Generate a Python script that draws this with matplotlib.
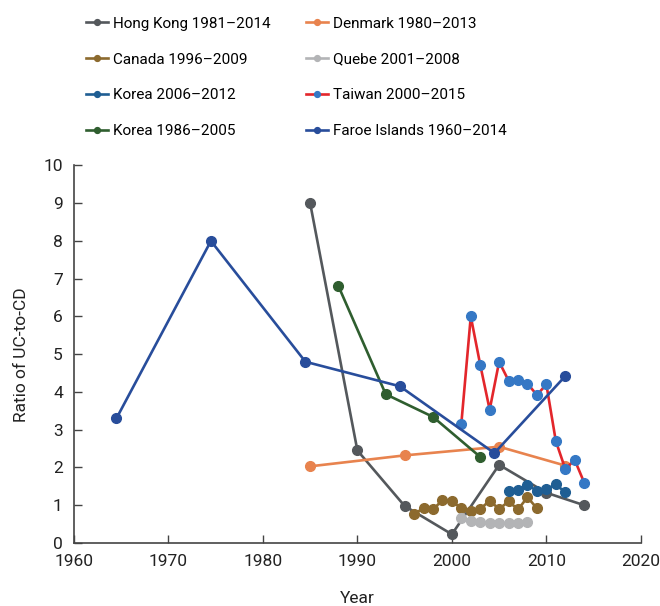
import numpy as np
import matplotlib
matplotlib.use('Agg')
import matplotlib.pyplot as plt

plt.rcParams['font.family'] = ['Roboto', 'DejaVu Sans']

# ratio of UC-to-CD by country / period
hk_years = [1985, 1990, 1995, 2000, 2005, 2010, 2014]
hk_vals = [9.0, 2.45, 0.98, 0.23, 2.07, 1.33, 1.0]

dk_years = [1985, 1995, 2005, 2012]
dk_vals = [2.03, 2.32, 2.55, 2.05]

ca_years = list(range(1996, 2010))
ca_vals = [0.77, 0.92, 0.89, 1.13, 1.11, 0.92, 0.85, 0.90, 1.12, 0.90, 1.10, 0.89, 1.21, 0.92]

qc_years = list(range(2001, 2009))
qc_vals = [0.66, 0.58, 0.56, 0.52, 0.53, 0.53, 0.53, 0.56]

kr2_years = list(range(2006, 2013))
kr2_vals = [1.38, 1.39, 1.54, 1.38, 1.43, 1.55, 1.34]

tw_years = list(range(2001, 2015))
tw_vals = [3.16, 6.0, 4.72, 3.53, 4.8, 4.3, 4.31, 4.22, 3.92, 4.2, 2.7, 1.96, 2.2, 1.6]

kr1_years = [1988, 1993, 1998, 2003]
kr1_vals = [6.8, 3.94, 3.34, 2.28]

fo_years = [1964.5, 1974.5, 1984.5, 1994.5, 2004.5, 2012]
fo_vals = [3.3, 8.0, 4.8, 4.15, 2.38, 4.42]

fig = plt.figure(figsize=(6.6, 6.06), dpi=100)
ax = fig.add_axes([0.112, 0.104, 0.859, 0.623])

lw = 1.9
ms = 7

h_hk, = ax.plot(hk_years, hk_vals, '-o', color='#54585c', lw=lw, ms=ms, label='Hong Kong 1981\u20132014')
h_dk, = ax.plot(dk_years, dk_vals, '-o', color='#e8834e', lw=lw, ms=ms, label='Denmark 1980\u20132013')
h_ca, = ax.plot(ca_years, ca_vals, '-o', color='#8c6a2e', lw=lw, ms=ms, label='Canada 1996\u20132009')
h_qc, = ax.plot(qc_years, qc_vals, '-o', color='#b3b4b6', lw=lw, ms=ms, label='Quebe 2001\u20132008')
h_kr2, = ax.plot(kr2_years, kr2_vals, '-o', color='#1f5e93', lw=lw, ms=ms, label='Korea 2006\u20132012')
h_tw, = ax.plot(tw_years, tw_vals, '-o', color='#e3262b', mfc='#3578c5', mec='#3578c5',
                lw=lw, ms=ms, label='Taiwan 2000\u20132015')
h_kr1, = ax.plot(kr1_years, kr1_vals, '-o', color='#2f5e2f', lw=lw, ms=ms, label='Korea 1986\u20132005')
h_fo, = ax.plot(fo_years, fo_vals, '-o', color='#284d9b', lw=lw, ms=ms, label='Faroe Islands 1960\u20132014')

ax.set_xlim(1960, 2020)
ax.set_ylim(0, 10)
ax.set_xticks(np.arange(1960, 2021, 10))
ax.set_yticks(np.arange(0, 11, 1))
ax.spines['top'].set_visible(False)
ax.spines['right'].set_visible(False)
for s in ['left', 'bottom']:
    ax.spines[s].set_color('#444444')
    ax.spines[s].set_linewidth(1.2)
ax.tick_params(direction='in', length=6, width=1, color='#444444', labelsize=12.5, labelcolor='#222222')
ax.tick_params(axis='x', pad=8)
ax.tick_params(axis='y', pad=8)
ax.set_xlabel('Year', fontsize=12.5, color='#222222', labelpad=16)
ax.set_ylabel('Ratio of UC-to-CD', fontsize=12.5, color='#222222', labelpad=10)

# legend is column-major in matplotlib
handles = [h_hk, h_ca, h_kr2, h_kr1, h_dk, h_qc, h_tw, h_fo]
fig.legend(handles=handles, labels=[h.get_label() for h in handles], ncol=2,
           loc='upper left', bbox_to_anchor=(0.119, 0.985), frameon=False, fontsize=11,
           borderpad=0, handlelength=1.4, handletextpad=0.35, columnspacing=2.35,
           labelspacing=1.43, markerscale=0.6)

fig.savefig('out.png', dpi=100)
